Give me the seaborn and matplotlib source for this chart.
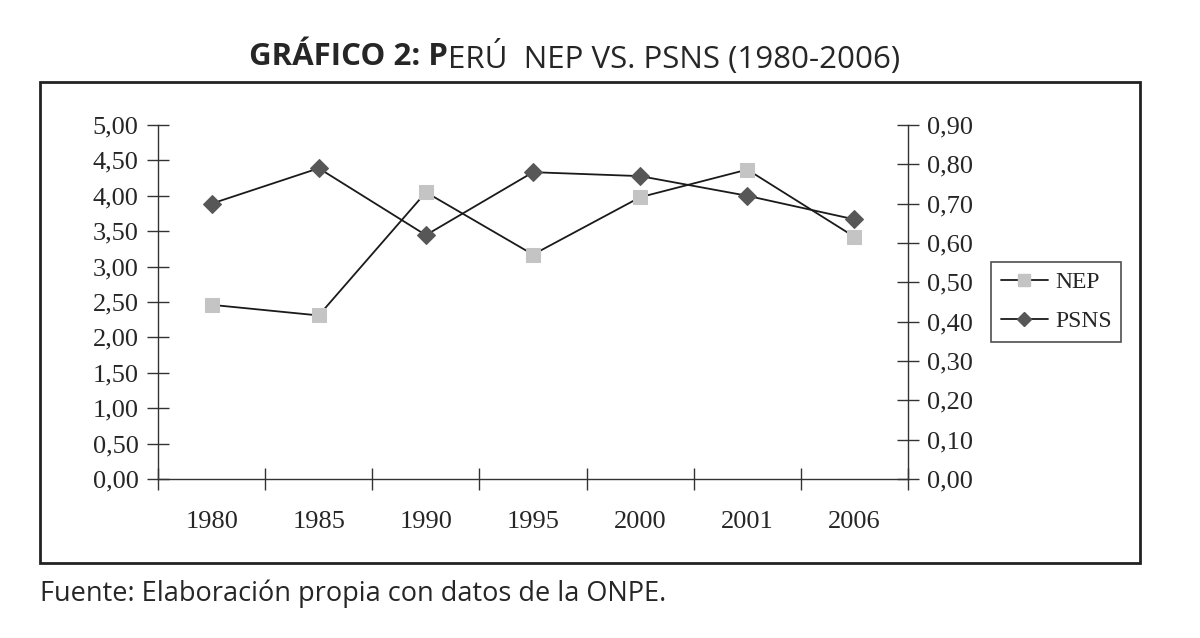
import numpy as np
import pandas as pd
import seaborn as sns
import matplotlib.pyplot as plt
from matplotlib.lines import Line2D
from matplotlib.patches import Rectangle
from matplotlib.ticker import FuncFormatter, FixedLocator

# datos
anios = ['1980', '1985', '1990', '1995', '2000', '2001', '2006']
nep = [2.46, 2.31, 4.05, 3.17, 3.98, 4.37, 3.42]
psns = [0.70, 0.79, 0.62, 0.78, 0.77, 0.72, 0.66]

df = pd.DataFrame({'pos': np.arange(len(anios)), 'Anio': anios, 'NEP': nep, 'PSNS': psns})

sns.set_style('white')
plt.rcParams['font.family'] = ['Liberation Serif', 'DejaVu Serif']

fig = plt.figure(figsize=(12, 6.38), dpi=100)
ax = fig.add_axes([0.1317, 0.2492, 0.625, 0.5549])
ax2 = ax.twinx()

sns.lineplot(data=df, x='pos', y='NEP', ax=ax, color='#1a1a1a', lw=1.3,
             marker='s', markersize=10, markerfacecolor='#c4c4c4', markeredgecolor='#c4c4c4')
sns.lineplot(data=df, x='pos', y='PSNS', ax=ax2, color='#1a1a1a', lw=1.3,
             marker='D', markersize=9, markerfacecolor='#575757', markeredgecolor='#575757')

coma = lambda v, p: f'{v:.2f}'.replace('.', ',')
ax.set_ylim(0, 5)
ax.set_yticks(np.arange(0, 5.01, 0.5))
ax.yaxis.set_major_formatter(FuncFormatter(coma))
ax2.set_ylim(0, 0.9)
ax2.set_yticks(np.arange(0, 0.901, 0.1))
ax2.yaxis.set_major_formatter(FuncFormatter(coma))

ax.set_xlim(-0.5, len(anios) - 0.5)
ax.set_xticks(df['pos'])
ax.set_xticklabels(anios)
ax.xaxis.set_minor_locator(FixedLocator(np.arange(-0.5, len(anios), 1.0)))
ax.tick_params(axis='x', which='major', bottom=True, length=0, pad=23, labelsize=19)
ax.tick_params(axis='x', which='minor', bottom=True, length=16, direction='inout',
               width=1, color='#333333')
ax.tick_params(axis='y', left=True, length=16, direction='inout', width=1, color='#333333',
               labelsize=19, pad=6)
ax2.tick_params(axis='y', right=True, length=16, direction='inout', width=1, color='#333333',
                labelsize=19, pad=6)
ax.set_xlabel('')
ax.set_ylabel('')
ax2.set_ylabel('')

for a in (ax, ax2):
    a.spines['top'].set_visible(False)
    for s in ('left', 'right', 'bottom'):
        a.spines[s].set_color('#333333')
        a.spines[s].set_linewidth(1)
ax.spines['right'].set_visible(False)
ax2.spines['left'].set_visible(False)
ax2.spines['bottom'].set_visible(False)

handles = [
    Line2D([], [], color='#1a1a1a', lw=1.3, marker='s', markersize=8,
           markerfacecolor='#c4c4c4', markeredgecolor='#c4c4c4'),
    Line2D([], [], color='#1a1a1a', lw=1.3, marker='D', markersize=7,
           markerfacecolor='#575757', markeredgecolor='#575757'),
]
leg = fig.legend(handles, ['NEP', 'PSNS'], loc='upper left', bbox_to_anchor=(0.826, 0.589),
                 frameon=True, fancybox=False, fontsize=17, handlelength=2.0,
                 borderpad=0.4, labelspacing=0.75, handletextpad=0.3, borderaxespad=0)
leg.get_frame().set_edgecolor('#222222')
leg.get_frame().set_linewidth(1.2)

# recuadro exterior
fig.add_artist(Rectangle((0.0333, 0.1176), 0.9167, 0.7539, transform=fig.transFigure,
                         fill=False, edgecolor='#222222', lw=2))

# titulo con parte en negrita
fig.text(0.373, 0.91, 'GRÁFICO 2: P', family='Open Sans', weight='bold', fontsize=22.5,
         ha='right', va='center')
fig.text(0.373, 0.91, 'ERÚ  NEP VS. PSNS (1980-2006)', family='Open Sans', fontsize=22.5,
         ha='left', va='center')

fig.text(0.033, 0.07, 'Fuente: Elaboración propia con datos de la ONPE.', family='Open Sans',
         fontsize=19.5, ha='left', va='center')

fig.savefig('out.png', dpi=100)
